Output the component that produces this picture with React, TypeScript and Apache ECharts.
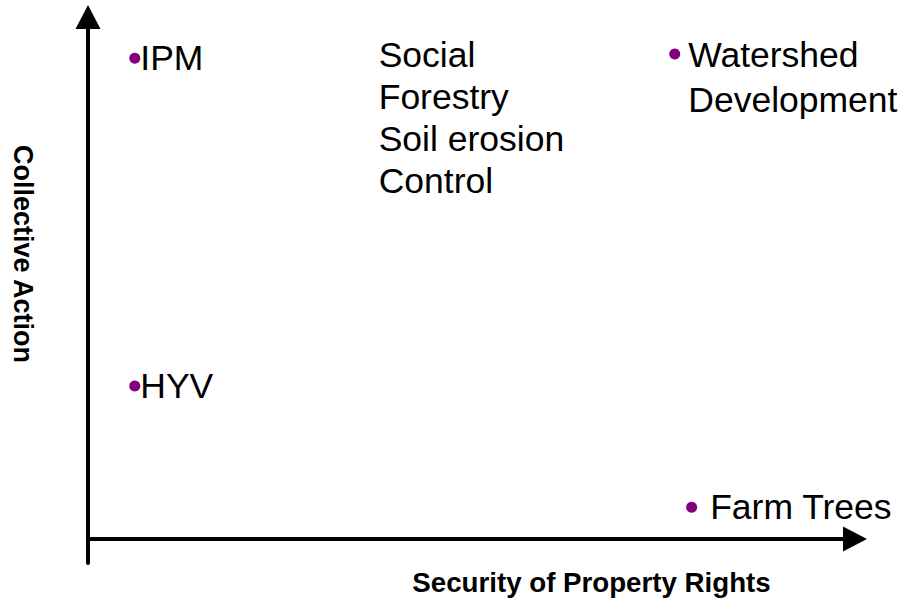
import React, { useEffect, useRef } from "react";
import * as echarts from "echarts";

// Conceptual positions (0-10 scales)
const pointNames = ["IPM", "HYV", "Watershed\nDevelopment", "Farm Trees"];
const securityValues = [0.61, 0.61, 7.65, 7.87];
const collectiveValues = [9.21, 2.93, 9.29, 0.61];
const labelDistances = [0, 0, 8, 13];
const labelOffsetsY = [0, 0, 23.5, 0];

const textOnlyNames = ["Social\nForestry\nSoil erosion\nControl"];
const textOnlySecurity = [3.79];
const textOnlyCollective = [8.07];

const xTitle = "Security of Property Rights";
const yTitle = "Collective Action";

const FONT = '"Liberation Sans", Arial, Helvetica, sans-serif';

export default function App() {
  const ref = useRef<HTMLDivElement>(null);
  useEffect(() => {
    if (!ref.current) return;
    const chart = echarts.init(ref.current, null, { renderer: "svg" });
    const axisLine = {
      show: true,
      lineStyle: { color: "#000", width: 4 },
      symbol: ["none", "triangle"],
      symbolSize: [25, 24],
    };
    const baseLabel = {
      show: true,
      position: "right",
      formatter: "{b}",
      color: "#000",
      opacity: 1,
      fontFamily: FONT,
      fontSize: 35.5,
      align: "left",
      textBorderWidth: 0,
    };
    chart.setOption({
      animation: false,
      backgroundColor: "#fff",
      grid: { left: 88, right: 44, top: 17, bottom: 40 },
      xAxis: {
        type: "value",
        min: 0,
        max: 10,
        axisLine: { ...axisLine, onZero: true },
        axisTick: { show: false },
        axisLabel: { show: false },
        splitLine: { show: false },
      },
      yAxis: {
        type: "value",
        min: -0.46,
        max: 10,
        axisLine: { ...axisLine, onZero: false },
        axisTick: { show: false },
        axisLabel: { show: false },
        splitLine: { show: false },
      },
      series: [
        {
          type: "scatter",
          symbol: "circle",
          symbolSize: 11,
          itemStyle: { color: "#800080", opacity: 1 },
          label: { ...baseLabel, lineHeight: 45 },
          emphasis: { disabled: true },
          data: pointNames.map((n, i) => ({
            name: n,
            value: [securityValues[i], collectiveValues[i]],
            label: {
              distance: labelDistances[i],
              offset: [0, labelOffsetsY[i]],
            },
          })),
        },
        {
          type: "scatter",
          symbolSize: 0,
          itemStyle: { color: "transparent" },
          label: { ...baseLabel, lineHeight: 42, distance: 0 },
          emphasis: { disabled: true },
          data: textOnlyNames.map((n, i) => ({
            name: n,
            value: [textOnlySecurity[i], textOnlyCollective[i]],
          })),
        },
      ],
      graphic: [
        {
          type: "text",
          x: 591.5,
          y: 582.5,
          style: {
            text: xTitle,
            font: `bold 27.7px ${FONT}`,
            fill: "#000",
            align: "center",
            verticalAlign: "middle",
            textAlign: "center",
            textVerticalAlign: "middle",
          },
        },
        {
          type: "text",
          x: 23,
          y: 254,
          rotation: -Math.PI / 2,
          style: {
            text: yTitle,
            font: `bold 27px ${FONT}`,
            fill: "#000",
            align: "center",
            verticalAlign: "middle",
            textAlign: "center",
            textVerticalAlign: "middle",
          },
        },
      ],
    });
    return () => chart.dispose();
  }, []);
  return (
    <div
      ref={ref}
      style={{ position: "absolute", left: 0, top: 0, width: 899, height: 603 }}
    />
  );
}
